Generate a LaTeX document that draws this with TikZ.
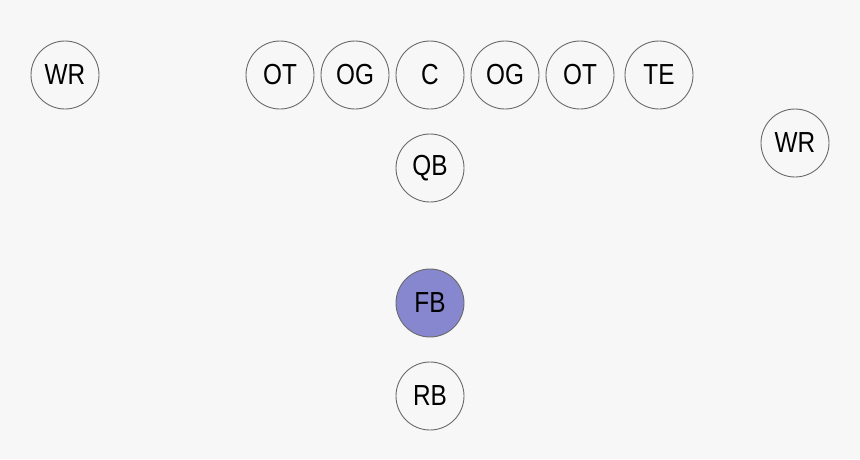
\documentclass[tikz,border=0pt]{standalone}
\usepackage{fontspec}
\setmainfont[FakeStretch=0.84]{Liberation Sans}
\definecolor{bg}{HTML}{F7F7F7}
\definecolor{edge}{HTML}{6A6A6A}
\definecolor{fbfill}{HTML}{8787D0}
\begin{document}
\begin{tikzpicture}[x=1pt,y=-1pt,
  player/.style={circle,draw=edge,line width=0.9pt,minimum size=68pt,inner sep=0pt,
    font=\fontsize{29}{29}\selectfont,text=black},
  back/.style={player,fill=fbfill}]
\fill[bg] (0,0) rectangle (860,459);
\useasboundingbox (0,0) rectangle (860,459);
\node[player] (wr1) at (65,75) {WR};
\node[player] (ot1) at (280,75) {OT};
\node[player] (og1) at (355,75) {OG};
\node[player] (c) at (430,75) {C};
\node[player] (og2) at (505,75) {OG};
\node[player] (ot2) at (580,75) {OT};
\node[player] (te) at (659,75) {TE};
\node[player] (wr2) at (795,143) {WR};
\node[player] (qb) at (430,168) {QB};
\node[back] (fb) at (430,303) {FB};
\node[player] (rb) at (430,396) {RB};
\end{tikzpicture}
\end{document}
